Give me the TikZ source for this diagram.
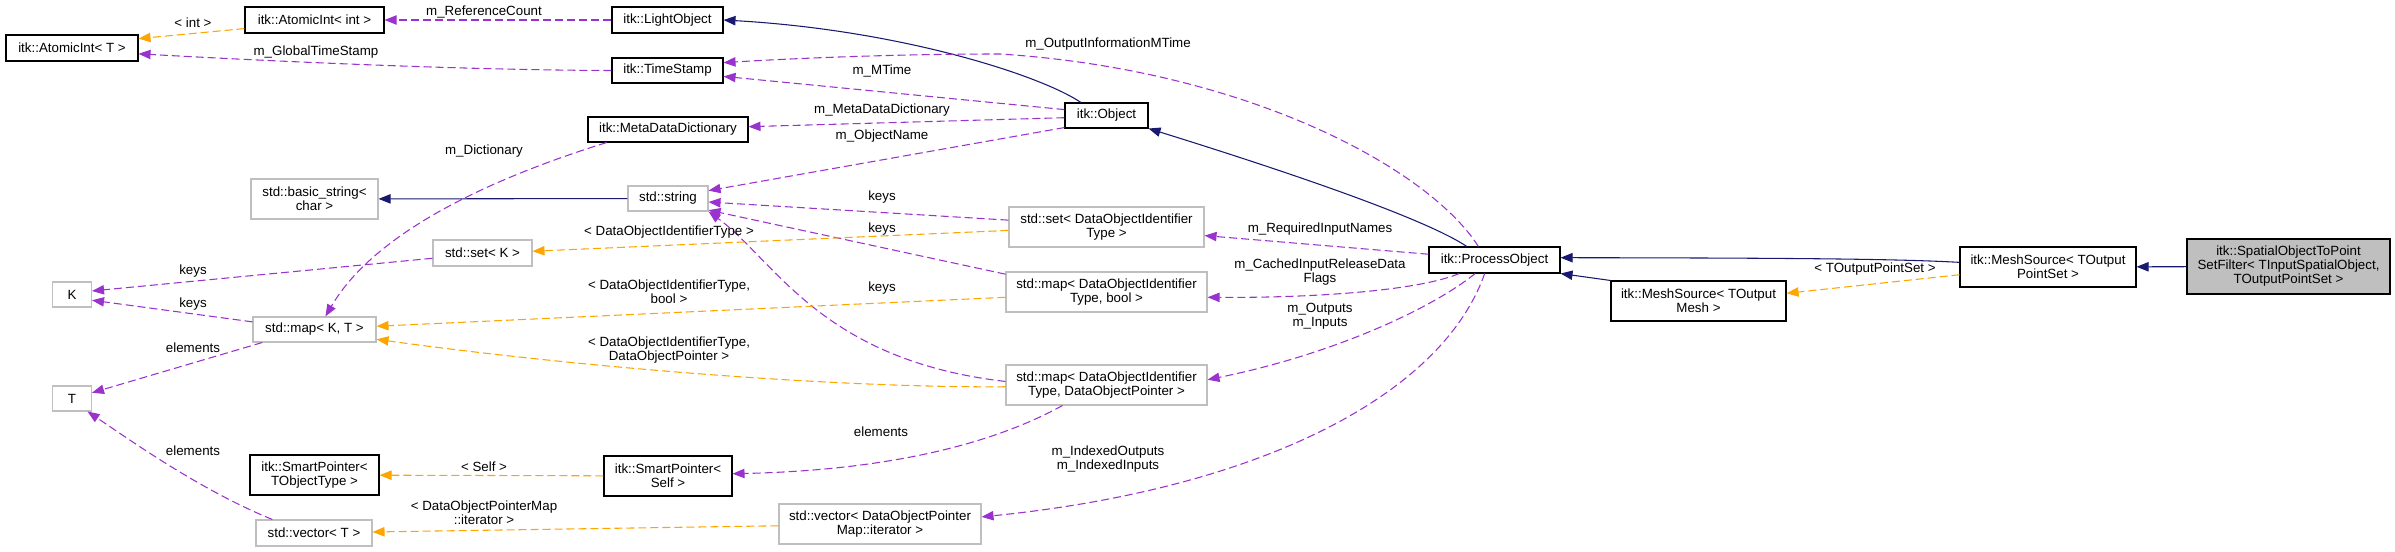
\documentclass[tikz,border=0pt]{standalone}
\usepackage{fontspec}
\setmainfont{Liberation Sans}
\usetikzlibrary{arrows.meta}
\definecolor{edgeNavy}{HTML}{191970}
\definecolor{edgePurple}{HTML}{9A32CD}
\definecolor{edgeOrange}{HTML}{FFA500}
\definecolor{boxGray}{HTML}{BFBFBF}
\newlength\dpx \setlength\dpx{0.75pt}

\begin{document}
\begin{tikzpicture}[x=0.75pt, y=-0.75pt,
  every node/.style={font=\fontsize{10pt}{10.5pt}\selectfont, inner sep=0pt, align=center},
  sz/.style 2 args={minimum width=#1\dpx, minimum height=#2\dpx},
  cls/.style={draw=black, line width=0.8pt, fill=white},
  ext/.style={draw=boxGray, line width=0.8pt, fill=white},
  inh/.style={edgeNavy, line width=0.8pt, -{Triangle[length=9pt,width=7pt]}},
  use/.style={edgePurple, line width=0.8pt, dash pattern=on 6pt off 3pt, -{Triangle[length=9pt,width=7pt]}},
  tpl/.style={edgeOrange, line width=0.8pt, dash pattern=on 6pt off 3pt, -{Triangle[length=9pt,width=7pt]}}]
  \useasboundingbox (0,0) rectangle (2395,552);

  % classes
  \node[cls, sz={132}{26}] (AIT) at (72,48) {itk::AtomicInt< T >};
  \node[cls, sz={139}{26}] (AIint) at (314.5,20) {itk::AtomicInt< int >};
  \node[cls, sz={111}{26}] (LO) at (667.5,20) {itk::LightObject};
  \node[cls, sz={111}{25}] (TS) at (667.5,70.5) {itk::TimeStamp};
  \node[cls, sz={160}{25}] (MDD) at (668,129.5) {itk::MetaDataDictionary};
  \node[ext, sz={127}{40}] (bstr) at (314.5,199) {std::basic\_string<\\char >};
  \node[ext, sz={80}{25}] (str) at (668,198.5) {std::string};
  \node[ext, sz={99}{26}] (setK) at (482.5,253) {std::set< K >};
  \node[ext, sz={39}{25}] (K) at (72,294.5) {K};
  \node[ext, sz={123}{25}] (mapKT) at (314.5,329.5) {std::map< K, T >};
  \node[ext, sz={39}{25}] (T) at (72,398.5) {T};
  \node[cls, sz={129}{40}] (spTOT) at (314.5,475) {itk::SmartPointer<\\TObjectType >};
  \node[ext, sz={116}{26}] (vecT) at (314,533) {std::vector< T >};
  \node[cls, sz={128}{40}] (spSelf) at (668,476) {itk::SmartPointer<\\Self >};
  \node[ext, sz={202}{40}] (vecD) at (880,524) {std::vector< DataObjectPointer\\Map::iterator >};
  \node[cls, sz={83}{25}] (Obj) at (1106.5,115.5) {itk::Object};
  \node[ext, sz={195}{40}] (setD) at (1106.5,227) {std::set< DataObjectIdentifier\\Type >};
  \node[ext, sz={201}{40}] (mapB) at (1106.5,292) {std::map< DataObjectIdentifier\\Type, bool >};
  \node[ext, sz={201}{40}] (mapD) at (1106.5,385) {std::map< DataObjectIdentifier\\Type, DataObjectPointer >};
  \node[cls, sz={131}{26}] (PO) at (1494.5,260) {itk::ProcessObject};
  \node[cls, sz={175}{40}] (MSM) at (1698.5,301) {itk::MeshSource< TOutput\\Mesh >};
  \node[cls, sz={176}{40}] (MSPS) at (2048,267) {itk::MeshSource< TOutput\\PointSet >};
  \node[cls, fill=boxGray, sz={203}{55}] (Filter) at (2288.5,266.5) {itk::SpatialObjectToPoint\\SetFilter< TInputSpatialObject,\\TOutputPointSet >};

  % connectors
  \draw[use] (LO) -- (AIint);
  \draw[tpl] (AIint.187) -- (AIT.8);
  \draw[use] (TS.west) .. controls (450,70) and (250,60) .. (AIT.-5);
  \draw[inh] (Obj.153) .. controls (1040,75) and (900,30) .. (LO.east);
  \draw[use] (Obj.172) -- (TS.-6);
  \draw[use] (PO.140) .. controls (1430,170) and (1250,70) .. (1000,54) .. controls (900,54) and (800,58) .. (TS.8);
  \draw[use] (Obj.183) -- (MDD.2);
  \draw[use] (Obj.196) -- (str.11);
  \draw[use] (MDD.192) .. controls (470,185) and (370,240) .. (mapKT.50);
  \draw[inh] (str) -- (bstr);
  \draw[use] (setD.176) -- (str.-5);
  \draw[use] (mapB.170) -- (str.-16);
  \draw[use] (mapD.178) .. controls (820,360) and (775,260) .. (str.south east);
  \draw[tpl] (setD.182) -- (setK.2);
  \draw[tpl] (mapB.183) -- (mapKT.3);
  \draw[tpl] (mapD.181) .. controls (850,388) and (600,370) .. (mapKT.-9);
  \draw[use] (setK.186) -- (K.10);
  \draw[use] (mapKT.173) -- (K.-16);
  \draw[use] (mapKT.194) -- (T.16);
  \draw[use] (vecT.162) .. controls (200,490) and (130,440) .. (T.-40);
  \draw[use] (mapD.205) .. controls (1000,440) and (900,470) .. (spSelf.2);
  \draw[tpl] (spSelf) -- (spTOT);
  \draw[tpl] (vecD.181) -- (vecT.1);
  \draw[inh] (PO.154) .. controls (1420,215) and (1250,160) .. (Obj.south east);
  \draw[use] (PO.175) -- (setD.-5);
  \draw[use] (PO.201) .. controls (1420,290) and (1320,298) .. (mapB.-3);
  \draw[use] (PO.215) .. controls (1430,310) and (1330,355) .. (mapD.3);
  \draw[use] (PO.234) .. controls (1440,400) and (1250,490) .. (vecD.4);
  \draw[inh] (MSPS.177) .. controls (1900,259) and (1800,258) .. (PO.2);
  \draw[inh] (MSM.north west) -- (PO.south east);
  \draw[tpl] (MSPS.185) -- (MSM.5);
  \draw[inh] (Filter) -- (MSPS);

  % labels
  \node (lInt) at (193,23) {< int >};
  \node (lRef) at (484,12) {m\_ReferenceCount};
  \node (lGlob) at (316,52) {m\_GlobalTimeStamp};
  \node (lOutInf) at (1108,44) {m\_OutputInformationMTime};
  \node (lMTime) at (882,71) {m\_MTime};
  \node (lMeta) at (882,110) {m\_MetaDataDictionary};
  \node (lName) at (882,136) {m\_ObjectName};
  \node (lDict) at (484,151) {m\_Dictionary};
  \node (lKeysA) at (882,197) {keys};
  \node (lKeysB) at (882,229) {keys};
  \node (lSetT) at (669,232) {< DataObjectIdentifierType >};
  \node (lKeysC) at (193,271) {keys};
  \node (lKeysD) at (882,288) {keys};
  \node (lMapB) at (669,292) {< DataObjectIdentifierType,\\bool >};
  \node (lKeysE) at (193,304) {keys};
  \node (lElemA) at (193,348) {elements};
  \node (lMapD) at (669,350) {< DataObjectIdentifierType,\\DataObjectPointer >};
  \node (lElemB) at (881,432) {elements};
  \node (lElemC) at (193,451) {elements};
  \node (lSelf) at (484,467) {< Self >};
  \node (lVec) at (484,513) {< DataObjectPointerMap\\::iterator >};
  \node (lReq) at (1320,229) {m\_RequiredInputNames};
  \node (lCache) at (1320,272) {m\_CachedInputReleaseData\\Flags};
  \node (lOut) at (1320,316) {m\_Outputs\\m\_Inputs};
  \node (lIdx) at (1108,459) {m\_IndexedOutputs\\m\_IndexedInputs};
  \node (lPS) at (1875,269) {< TOutputPointSet >};
\end{tikzpicture}
\end{document}
